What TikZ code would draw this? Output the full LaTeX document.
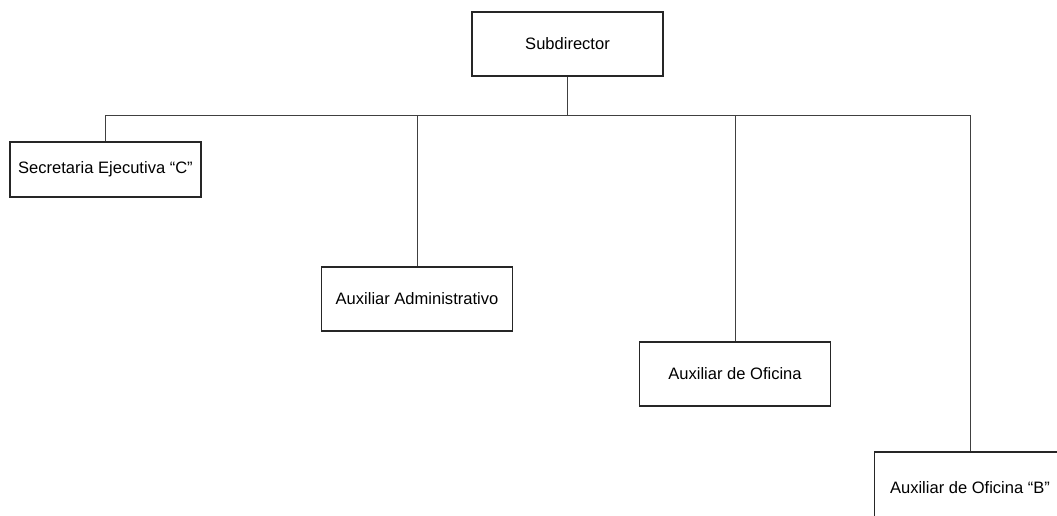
\documentclass[tikz,border=0pt]{standalone}
\usepackage{fontspec}
\setmainfont{Liberation Sans}
\usepackage{tikz}
\usetikzlibrary{calc}

\tikzset{
  cargo/.style={draw=black!85,line width=1.2pt,fill=white,align=center,
    minimum width=143pt,minimum height=48pt,inner sep=2pt,
    font=\fontsize{12.4}{14}\selectfont},
  linea/.style={draw=black!75,line width=0.6pt}
}

\begin{document}
\begin{tikzpicture}[x=0.75pt,y=-0.75pt]
        \clip (0,0) rectangle (1057,515);
        \fill[white] (0,0) rectangle (1057,515);

        \coordinate (bus) at (0,115);

        \node[cargo] (sub) at (567.5,44) {Subdirector};
        \node[cargo,minimum height=41pt] (sec) at (105.5,169.5) {Secretaria Ejecutiva “C”};
        \node[cargo] (adm) at (417,299) {Auxiliar Administrativo};
        \node[cargo] (ofi) at (735,374) {Auxiliar de Oficina};
        \node[cargo,minimum height=54pt] (ofb) at (970,488) {Auxiliar de Oficina “B”};

        \draw[linea] (sub.south) -- (sub.south |- bus);
        \draw[linea] (sec.north) |- (bus -| ofb.north) -- (ofb.north);
        \draw[linea] (adm.north) -- (adm.north |- bus);
        \draw[linea] (ofi.north) -- (ofi.north |- bus);
    \end{tikzpicture}
\end{document}
